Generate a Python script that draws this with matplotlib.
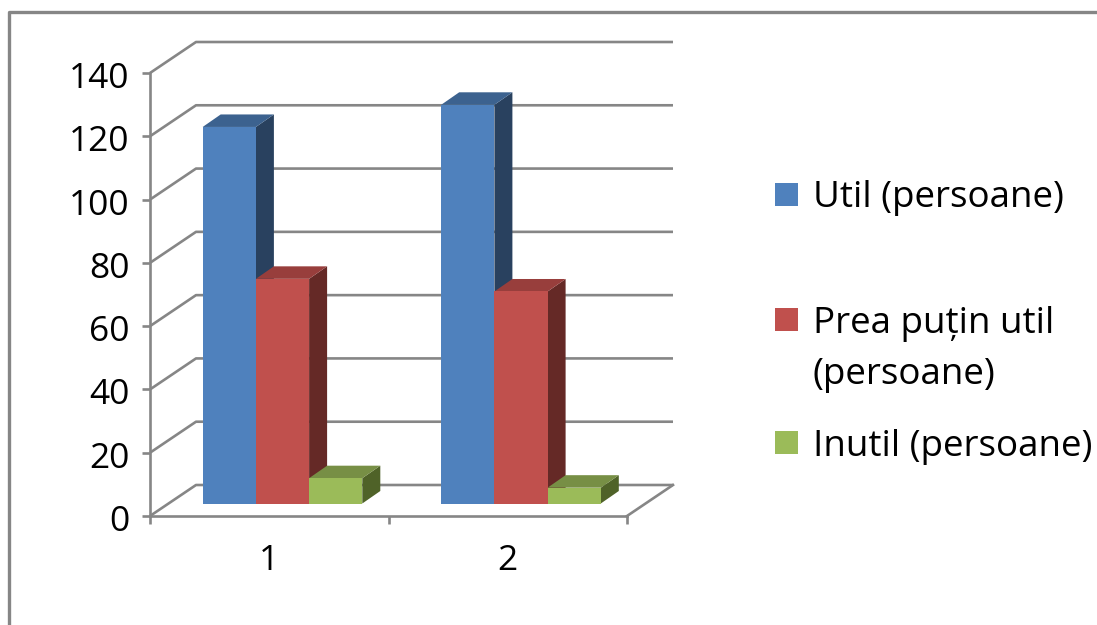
import matplotlib
matplotlib.use("Agg")
import matplotlib.pyplot as plt
from matplotlib.lines import Line2D
from matplotlib.patches import Polygon, Rectangle
from matplotlib.transforms import ScaledTranslation

# ==========================================
# data
# ==========================================
categories = ["1", "2"]
yticks = [0, 20, 40, 60, 80, 100, 120, 140]
util = [119, 126]
prea_putin = [71, 67]
inutil = [8, 5]

# ==========================================
# style
# ==========================================
W, H = 1097, 625
GRAY = "#868686"
FONT = "Open Sans"
FS = 25.5
LEGEND_FS = 26.5
LW = 1.9

# front, top and side colours of each series
series = [
    (util, "#4F81BD", "#3C628F", "#29415F"),
    (prea_putin, "#C0504D", "#983E3C", "#652926"),
    (inutil, "#9BBB59", "#778F45", "#4F6228"),
]

# axis box in pixels
x0, x1 = 150, 627
y0, y1 = 516, 73
per_x = (x1 - x0) / len(categories)
per_y = (y0 - y1) / 140

# 3d offsets, pixels converted to data units
wall_dx, wall_dy = 46 / per_x, 31 / per_y
base_dx, base_dy = 19 / per_x, 12.5 / per_y
bar_dx, bar_dy = 18 / per_x, 12.5 / per_y
gap = 33.7 / per_x
bar_w = 53.2 / per_x

plt.rcParams["font.family"] = [FONT, "DejaVu Sans"]

fig = plt.figure(figsize=(W / 100, H / 100), dpi=100)
ax = fig.add_axes([x0 / W, 1 - y0 / H, (x1 - x0) / W, (y0 - y1) / H])
ax.set_xlim(0, len(categories))
ax.set_ylim(0, 140)
ax.patch.set_visible(False)


def px(x, y):
    return x / W, 1 - y / H


# outer frame, cut by the picture edges
fig.add_artist(Line2D(*zip(px(9, H), px(9, 12), px(W, 12)), color=GRAY, lw=2.4))

# ==========================================
# axes and walls
# ==========================================
for name in ["top", "right"]:
    ax.spines[name].set_visible(False)
for name in ["left", "bottom"]:
    ax.spines[name].set_color(GRAY)
    ax.spines[name].set_linewidth(LW)

ax.set_yticks(yticks)
ax.set_xticks(range(len(categories) + 1))
ax.set_xticklabels([])
ax.set_xticks([i + 0.5 for i in range(len(categories))], minor=True)
ax.set_xticklabels(categories, minor=True, fontsize=FS, color="black")
ax.tick_params(axis="y", length=5.8, width=LW, color=GRAY, pad=9, labelsize=FS)
ax.tick_params(axis="x", which="major", length=5.8, width=LW, color=GRAY)
ax.tick_params(axis="x", which="minor", length=0, pad=20)

# labels sit a little under their ticks
shift = ScaledTranslation(0, -2 / 100, fig.dpi_scale_trans)
for label in ax.get_yticklabels():
    label.set_transform(label.get_transform() + shift)

x_end = len(categories)
for v in yticks:
    ax.plot([0, wall_dx, x_end + wall_dx], [v, v + wall_dy, v + wall_dy],
            color=GRAY, lw=LW, clip_on=False, zorder=1, solid_capstyle="butt")
ax.plot([x_end, x_end + wall_dx], [0, wall_dy], color=GRAY, lw=LW, clip_on=False, zorder=1)

# ==========================================
# bars: side and top faces are sheared from the front face
# ==========================================
z = 3
for c in range(len(categories)):
    for s, (vals, front, top, side) in enumerate(series):
        left = c + base_dx + gap + s * bar_w
        right = left + bar_w
        v = vals[c]
        bottom = base_dy
        high = base_dy + v
        ax.add_patch(Polygon([(right, bottom), (right + bar_dx, bottom + bar_dy),
                              (right + bar_dx, high + bar_dy), (right, high)],
                             fc=side, ec="none", clip_on=False, zorder=z))
        ax.add_patch(Polygon([(left, high), (left + bar_dx, high + bar_dy),
                              (right + bar_dx, high + bar_dy), (right, high)],
                             fc=top, ec="none", clip_on=False, zorder=z))
        ax.add_patch(Polygon([(left, bottom), (right, bottom), (right, high), (left, high)],
                             fc=front, ec="none", clip_on=False, zorder=z + 0.5))
        z += 1

# ==========================================
# legend
# ==========================================
legend_boxes = [183, 308, 431]
legend_text = [("Util (persoane)", 207), ("Prea puțin util", 333),
               ("(persoane)", 384), ("Inutil (persoane)", 456)]

for (vals, front, top, side), y in zip(series, legend_boxes):
    xa, ya = px(775, y + 23)
    fig.add_artist(Rectangle((xa, ya), 23 / W, 23 / H, fc=front, ec="none",
                             transform=fig.transFigure))

for txt, y in legend_text:
    xa, ya = px(813, y)
    fig.text(xa, ya, txt, fontsize=LEGEND_FS, va="baseline", ha="left", color="black")

fig.savefig("out.png", dpi=100, facecolor="white")
